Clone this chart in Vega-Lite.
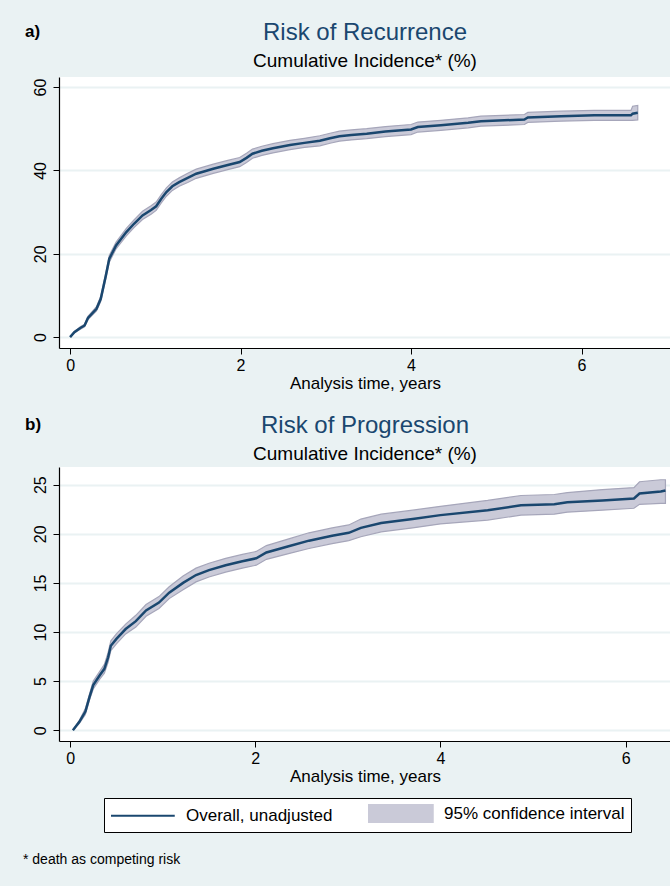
{
  "$schema": "https://vega.github.io/schema/vega-lite/v6.json",
  "background": "#EAF2F3",
  "padding": {"left": 22, "top": 21, "right": 0, "bottom": 24},
  "datasets": {
    "recurrence": [
      {"t": 0.00, "est": 0.0, "lo": 0.0, "hi": 0.0},
      {"t": 0.05, "est": 1.2, "lo": 1.0, "hi": 1.4},
      {"t": 0.12, "est": 2.2, "lo": 1.9, "hi": 2.5},
      {"t": 0.17, "est": 2.8, "lo": 2.5, "hi": 3.1},
      {"t": 0.21, "est": 4.6, "lo": 4.2, "hi": 5.0},
      {"t": 0.31, "est": 6.8, "lo": 6.3, "hi": 7.3},
      {"t": 0.36, "est": 9.2, "lo": 8.6, "hi": 9.8},
      {"t": 0.42, "est": 14.8, "lo": 14.1, "hi": 15.5},
      {"t": 0.46, "est": 18.8, "lo": 18.0, "hi": 19.6},
      {"t": 0.54, "est": 22.0, "lo": 21.2, "hi": 22.8},
      {"t": 0.66, "est": 25.2, "lo": 24.3, "hi": 26.1},
      {"t": 0.75, "est": 27.2, "lo": 26.3, "hi": 28.1},
      {"t": 0.85, "est": 29.2, "lo": 28.2, "hi": 30.2},
      {"t": 0.95, "est": 30.5, "lo": 29.5, "hi": 31.5},
      {"t": 1.01, "est": 31.4, "lo": 30.4, "hi": 32.4},
      {"t": 1.07, "est": 33.2, "lo": 32.2, "hi": 34.2},
      {"t": 1.13, "est": 34.8, "lo": 33.8, "hi": 35.8},
      {"t": 1.20, "est": 36.2, "lo": 35.2, "hi": 37.2},
      {"t": 1.28, "est": 37.2, "lo": 36.2, "hi": 38.2},
      {"t": 1.38, "est": 38.2, "lo": 37.1, "hi": 39.3},
      {"t": 1.48, "est": 39.2, "lo": 38.1, "hi": 40.3},
      {"t": 1.58, "est": 39.8, "lo": 38.7, "hi": 40.9},
      {"t": 1.68, "est": 40.4, "lo": 39.3, "hi": 41.5},
      {"t": 1.85, "est": 41.3, "lo": 40.2, "hi": 42.4},
      {"t": 1.99, "est": 42.0, "lo": 40.9, "hi": 43.1},
      {"t": 2.07, "est": 43.0, "lo": 41.9, "hi": 44.1},
      {"t": 2.14, "est": 44.0, "lo": 42.9, "hi": 45.1},
      {"t": 2.25, "est": 44.7, "lo": 43.6, "hi": 45.8},
      {"t": 2.38, "est": 45.3, "lo": 44.2, "hi": 46.4},
      {"t": 2.58, "est": 46.1, "lo": 45.0, "hi": 47.2},
      {"t": 2.75, "est": 46.6, "lo": 45.5, "hi": 47.7},
      {"t": 2.93, "est": 47.1, "lo": 45.9, "hi": 48.3},
      {"t": 3.05, "est": 47.7, "lo": 46.5, "hi": 48.9},
      {"t": 3.16, "est": 48.2, "lo": 47.0, "hi": 49.4},
      {"t": 3.30, "est": 48.5, "lo": 47.3, "hi": 49.7},
      {"t": 3.48, "est": 48.8, "lo": 47.6, "hi": 50.0},
      {"t": 3.70, "est": 49.3, "lo": 48.1, "hi": 50.5},
      {"t": 4.00, "est": 49.8, "lo": 48.6, "hi": 51.0},
      {"t": 4.08, "est": 50.4, "lo": 49.2, "hi": 51.6},
      {"t": 4.35, "est": 50.8, "lo": 49.6, "hi": 52.0},
      {"t": 4.67, "est": 51.4, "lo": 50.2, "hi": 52.6},
      {"t": 4.82, "est": 51.8, "lo": 50.6, "hi": 53.0},
      {"t": 5.33, "est": 52.2, "lo": 51.0, "hi": 53.4},
      {"t": 5.37, "est": 52.7, "lo": 51.5, "hi": 53.9},
      {"t": 5.76, "est": 53.0, "lo": 51.8, "hi": 54.2},
      {"t": 6.15, "est": 53.2, "lo": 52.0, "hi": 54.4},
      {"t": 6.58, "est": 53.2, "lo": 52.0, "hi": 54.4},
      {"t": 6.60, "est": 53.6, "lo": 52.0, "hi": 55.4},
      {"t": 6.66, "est": 53.8, "lo": 52.1, "hi": 55.6}
    ],
    "progression": [
      {"t": 0.03, "est": 0.0, "lo": 0.0, "hi": 0.0},
      {"t": 0.10, "est": 0.85, "lo": 0.7, "hi": 1.0},
      {"t": 0.165, "est": 1.9, "lo": 1.6, "hi": 2.2},
      {"t": 0.21, "est": 3.4, "lo": 3.1, "hi": 3.7},
      {"t": 0.25, "est": 4.6, "lo": 4.2, "hi": 5.0},
      {"t": 0.32, "est": 5.6, "lo": 5.2, "hi": 6.0},
      {"t": 0.37, "est": 6.25, "lo": 5.8, "hi": 6.7},
      {"t": 0.41, "est": 7.4, "lo": 6.9, "hi": 7.9},
      {"t": 0.44, "est": 8.6, "lo": 8.1, "hi": 9.1},
      {"t": 0.50, "est": 9.3, "lo": 8.8, "hi": 9.8},
      {"t": 0.60, "est": 10.3, "lo": 9.8, "hi": 10.8},
      {"t": 0.71, "est": 11.1, "lo": 10.5, "hi": 11.7},
      {"t": 0.82, "est": 12.2, "lo": 11.6, "hi": 12.8},
      {"t": 0.96, "est": 13.0, "lo": 12.4, "hi": 13.6},
      {"t": 1.07, "est": 14.0, "lo": 13.4, "hi": 14.6},
      {"t": 1.22, "est": 15.0, "lo": 14.3, "hi": 15.7},
      {"t": 1.36, "est": 15.8, "lo": 15.1, "hi": 16.5},
      {"t": 1.50, "est": 16.3, "lo": 15.6, "hi": 17.0},
      {"t": 1.68, "est": 16.8, "lo": 16.1, "hi": 17.5},
      {"t": 1.86, "est": 17.2, "lo": 16.5, "hi": 17.9},
      {"t": 2.01, "est": 17.5, "lo": 16.8, "hi": 18.2},
      {"t": 2.12, "est": 18.1, "lo": 17.4, "hi": 18.8},
      {"t": 2.37, "est": 18.75, "lo": 18.0, "hi": 19.5},
      {"t": 2.58, "est": 19.3, "lo": 18.5, "hi": 20.1},
      {"t": 2.83, "est": 19.8, "lo": 19.0, "hi": 20.6},
      {"t": 3.01, "est": 20.1, "lo": 19.3, "hi": 20.9},
      {"t": 3.14, "est": 20.6, "lo": 19.7, "hi": 21.5},
      {"t": 3.36, "est": 21.1, "lo": 20.2, "hi": 22.0},
      {"t": 3.70, "est": 21.5, "lo": 20.6, "hi": 22.4},
      {"t": 4.00, "est": 21.9, "lo": 21.0, "hi": 22.8},
      {"t": 4.51, "est": 22.4, "lo": 21.4, "hi": 23.4},
      {"t": 4.87, "est": 22.9, "lo": 21.9, "hi": 23.9},
      {"t": 5.23, "est": 23.0, "lo": 22.0, "hi": 24.0},
      {"t": 5.37, "est": 23.2, "lo": 22.2, "hi": 24.2},
      {"t": 5.75, "est": 23.4, "lo": 22.4, "hi": 24.5},
      {"t": 6.09, "est": 23.6, "lo": 22.6, "hi": 24.7},
      {"t": 6.15, "est": 24.1, "lo": 23.0, "hi": 25.3},
      {"t": 6.38, "est": 24.3, "lo": 23.1, "hi": 25.5},
      {"t": 6.43, "est": 24.4, "lo": 23.1, "hi": 25.5}
    ]
  },
  "title": {"text": "* death as competing risk", "orient": "bottom", "anchor": "start", "frame": "bounds", "fontSize": 14, "fontWeight": "normal", "color": "black", "offset": 20, "dx": -2},
  "spacing": 23,
  "vconcat": [
    {
      "title": {"text": "a)", "anchor": "start", "frame": "bounds", "fontSize": 17, "fontWeight": "bold", "color": "black", "offset": -20, "dx": -7},
      "vconcat": [
        {
          "width": 612,
          "height": 271,
          "title": {"text": "Risk of Recurrence", "subtitle": "Cumulative Incidence* (%)", "anchor": "middle", "frame": "group", "fontSize": 24, "fontWeight": "normal", "color": "#1A476F", "subtitleFontSize": 19, "subtitleColor": "black", "subtitlePadding": 7, "offset": 6},
          "data": {"name": "recurrence"},
          "encoding": {
            "x": {"field": "t", "type": "quantitative", "scale": {"domain": [-0.13, 7.05], "nice": false, "zero": false}, "axis": {"values": [0, 2, 4, 6], "title": "Analysis time, years"}}
          },
          "layer": [
            {
              "mark": {"type": "area", "stroke": "#A6A6BA", "strokeWidth": 1.2},
              "encoding": {
                "y": {"field": "lo", "type": "quantitative", "scale": {"domain": [-2.6, 62.4], "nice": false, "zero": false}, "axis": {"values": [0, 20, 40, 60], "title": null}},
                "y2": {"field": "hi"},
                "color": {"datum": "95% confidence interval", "scale": {"domain": ["Overall, unadjusted", "95% confidence interval"], "range": ["#1A476F", "#CACAD8"]},
                  "legend": {"title": null, "orient": "none", "legendX": 45, "legendY": 721, "direction": "horizontal", "columns": 2, "symbolSize": 289, "symbolStrokeWidth": 2, "labelOffset": 57, "columnPadding": 32, "padding": 6, "strokeColor": "black", "fillColor": "white", "labelFontSize": 17, "labelFont": "Liberation Sans", "labelColor": "black", "labelLimit": 400,
                    "symbolType": {"expr": "datum.value === 'Overall, unadjusted' ? 'M-1,0H6.5' : 'M-1,-1H6.5V1H-1Z'"},
                    "symbolFillColor": {"expr": "datum.value === 'Overall, unadjusted' ? 'transparent' : '#CACAD8'"},
                    "symbolStrokeColor": {"expr": "datum.value === 'Overall, unadjusted' ? '#1A476F' : '#A6A6BA'"}}}
              }
            },
            {
              "mark": {"type": "line", "strokeWidth": 2.5},
              "encoding": {
                "y": {"field": "est", "type": "quantitative"},
                "color": {"datum": "Overall, unadjusted"}
              }
            }
          ]
        }
      ]
    },
    {
      "title": {"text": "b)", "anchor": "start", "frame": "bounds", "fontSize": 17, "fontWeight": "bold", "color": "black", "offset": -20, "dx": -7},
      "vconcat": [
        {
          "width": 612,
          "height": 274,
          "title": {"text": "Risk of Progression", "subtitle": "Cumulative Incidence* (%)", "anchor": "middle", "frame": "group", "fontSize": 24, "fontWeight": "normal", "color": "#1A476F", "subtitleFontSize": 19, "subtitleColor": "black", "subtitlePadding": 7, "offset": 3},
          "data": {"name": "progression"},
          "encoding": {
            "x": {"field": "t", "type": "quantitative", "scale": {"domain": [-0.12, 6.49], "nice": false, "zero": false}, "axis": {"values": [0, 2, 4, 6], "title": "Analysis time, years"}}
          },
          "layer": [
            {
              "mark": {"type": "area", "fill": "#CACAD8", "stroke": "#A6A6BA", "strokeWidth": 1.2},
              "encoding": {
                "y": {"field": "lo", "type": "quantitative", "scale": {"domain": [-1.1, 26.8], "nice": false, "zero": false}, "axis": {"values": [0, 5, 10, 15, 20, 25], "title": null}},
                "y2": {"field": "hi"}
              }
            },
            {
              "mark": {"type": "line", "color": "#1A476F", "strokeWidth": 2.5},
              "encoding": {
                "y": {"field": "est", "type": "quantitative"}
              }
            }
          ]
        }
      ]
    }
  ],
  "config": {
    "font": "Liberation Sans",
    "view": {"fill": "white", "stroke": null},
    "axis": {"domainColor": "black", "domainWidth": 1.2, "tickColor": "black", "tickWidth": 1, "tickSize": 6, "labelColor": "black", "titleColor": "black", "labelFont": "Liberation Sans", "titleFont": "Liberation Sans", "labelFontSize": 16, "titleFontSize": 17, "titleFontWeight": "normal"},
    "axisX": {"grid": false, "labelPadding": 3, "titlePadding": 2, "labelFlush": false},
    "axisY": {"grid": true, "gridColor": "#EAF2F3", "gridWidth": 2, "labelAngle": 270, "labelAlign": "center", "labelBaseline": "alphabetic", "labelPadding": 8},
    "title": {"font": "Liberation Sans", "subtitleFont": "Liberation Sans"}
  }
}
